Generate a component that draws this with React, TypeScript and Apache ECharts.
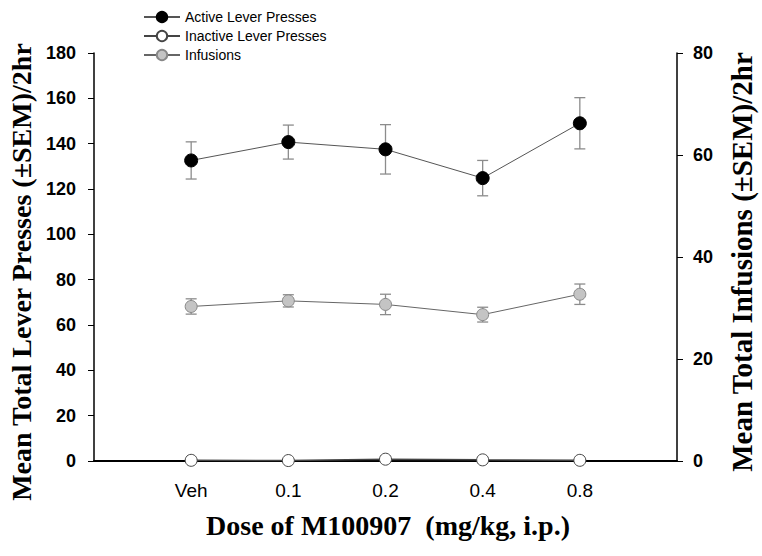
import React, { useEffect, useRef } from "react";
import * as echarts from "echarts";

const categories = ["Veh", "0.1", "0.2", "0.4", "0.8"];
const activeMean = [132.6, 140.7, 137.5, 124.8, 149.0];
const activeSem = [8.2, 7.5, 10.9, 7.8, 11.3];
const inactiveMean = [0.3, 0.2, 0.8, 0.5, 0.3];
const inactiveSem = [0.4, 0.3, 0.5, 0.4, 0.4];
const infusionMean = [30.3, 31.4, 30.7, 28.7, 32.7];
const infusionSem = [1.5, 1.2, 2.0, 1.45, 2.0];
const leftTicks = { min: 0, max: 180, interval: 20 };
const rightTicks = { min: 0, max: 80, interval: 20 };

const serif = "'Liberation Serif', 'Times New Roman', serif";
const sans = "'Liberation Sans', Arial, sans-serif";

function errorBarSeries(mean: number[], sem: number[], yAxisIndex: number) {
  return {
    type: "custom",
    yAxisIndex,
    z: 1,
    silent: true,
    data: mean.map((m, i) => [i + 1, m, sem[i]]),
    renderItem: (params: any, api: any) => {
      const x = api.value(0);
      const y = api.value(1);
      const e = api.value(2);
      const top = api.coord([x, y + e]);
      const bot = api.coord([x, Math.max(0, y - e)]);
      const half = 5.5;
      const style = { stroke: "#8c8c8c", lineWidth: 1.3 };
      return {
        type: "group",
        children: [
          { type: "line", shape: { x1: top[0], y1: top[1], x2: bot[0], y2: bot[1] }, style },
          { type: "line", shape: { x1: top[0] - half, y1: top[1], x2: top[0] + half, y2: top[1] }, style },
          { type: "line", shape: { x1: bot[0] - half, y1: bot[1], x2: bot[0] + half, y2: bot[1] }, style },
        ],
      };
    },
  };
}

export default function App() {
  const ref = useRef<HTMLDivElement>(null);
  useEffect(() => {
    if (!ref.current) return;
    const chart = echarts.init(ref.current, null, { renderer: "svg" });
    const axisCats = ["", ...categories, ""];
    const yLabel = { color: "#000", fontFamily: sans, fontWeight: "bold", fontSize: 18 };
    chart.setOption({
      animation: false,
      backgroundColor: "#fff",
      grid: { left: 94, right: 85, top: 53, bottom: 95, containLabel: false },
      legend: {
        orient: "vertical",
        left: 138,
        top: 5,
        itemWidth: 36,
        itemHeight: 13,
        itemGap: 5,
        textStyle: { fontFamily: sans, fontSize: 14, color: "#000" },
        data: ["Active Lever Presses", "Inactive Lever Presses", "Infusions"],
      },
      xAxis: {
        type: "category",
        data: axisCats,
        boundaryGap: false,
        axisLine: { lineStyle: { color: "#000", width: 1.8 } },
        axisTick: { show: false },
        axisLabel: {
          color: "#000",
          fontFamily: "'Liberation Sans Narrow', 'Liberation Sans', Arial, sans-serif",
          fontSize: 19,
          margin: 20,
          interval: 0,
        },
        splitLine: { show: false },
      },
      yAxis: [
        {
          type: "value",
          ...leftTicks,
          position: "left",
          axisLine: { show: true, lineStyle: { color: "#000", width: 1.5 } },
          axisTick: { show: true, length: 6, lineStyle: { color: "#000" } },
          axisLabel: { ...yLabel, margin: 18 },
          splitLine: { show: false },
        },
        {
          type: "value",
          ...rightTicks,
          position: "right",
          axisLine: { show: true, lineStyle: { color: "#000", width: 1.5 } },
          axisTick: { show: true, length: 6, lineStyle: { color: "#000" } },
          axisLabel: { ...yLabel, margin: 16 },
          splitLine: { show: false },
        },
      ],
      graphic: [
        {
          type: "text",
          x: 21,
          y: 272,
          rotation: Math.PI / 2,
          style: {
            text: "Mean Total Lever Presses (±SEM)/2hr",
            font: `bold 28px ${serif}`,
            fill: "#000",
            textAlign: "center",
            textVerticalAlign: "middle",
          },
        },
        {
          type: "text",
          x: 742,
          y: 262,
          rotation: Math.PI / 2,
          style: {
            text: "Mean Total Infusions (±SEM)/2hr",
            font: `bold 29px ${serif}`,
            fill: "#000",
            textAlign: "center",
            textVerticalAlign: "middle",
          },
        },
        {
          type: "text",
          x: 388,
          y: 525,
          style: {
            text: "Dose of M100907  (mg/kg, i.p.)",
            font: `bold 28px ${serif}`,
            fill: "#000",
            textAlign: "center",
            textVerticalAlign: "middle",
          },
        },
      ],
      series: [
        errorBarSeries(activeMean, activeSem, 0),
        errorBarSeries(inactiveMean, inactiveSem, 0),
        errorBarSeries(infusionMean, infusionSem, 1),
        {
          name: "Active Lever Presses",
          type: "line",
          yAxisIndex: 0,
          z: 3,
          data: activeMean.map((v, i) => [i + 1, v]),
          symbol: "circle",
          symbolSize: 13,
          lineStyle: { color: "#555", width: 1 },
          itemStyle: { color: "#000", borderColor: "#000", borderWidth: 1 },
        },
        {
          name: "Inactive Lever Presses",
          type: "line",
          yAxisIndex: 0,
          z: 3,
          data: inactiveMean.map((v, i) => [i + 1, v]),
          symbol: "circle",
          symbolSize: 12,
          lineStyle: { color: "#444", width: 1.5 },
          itemStyle: { color: "#fff", borderColor: "#444", borderWidth: 1 },
        },
        {
          name: "Infusions",
          type: "line",
          yAxisIndex: 1,
          z: 3,
          data: infusionMean.map((v, i) => [i + 1, v]),
          symbol: "circle",
          symbolSize: 12,
          lineStyle: { color: "#666", width: 1 },
          itemStyle: { color: "#c4c4c4", borderColor: "#888", borderWidth: 1 },
        },
      ],
    });
    return () => chart.dispose();
  }, []);
  return (
    <div
      ref={ref}
      style={{ position: "fixed", left: 0, top: 0, width: 762, height: 556 }}
    />
  );
}
